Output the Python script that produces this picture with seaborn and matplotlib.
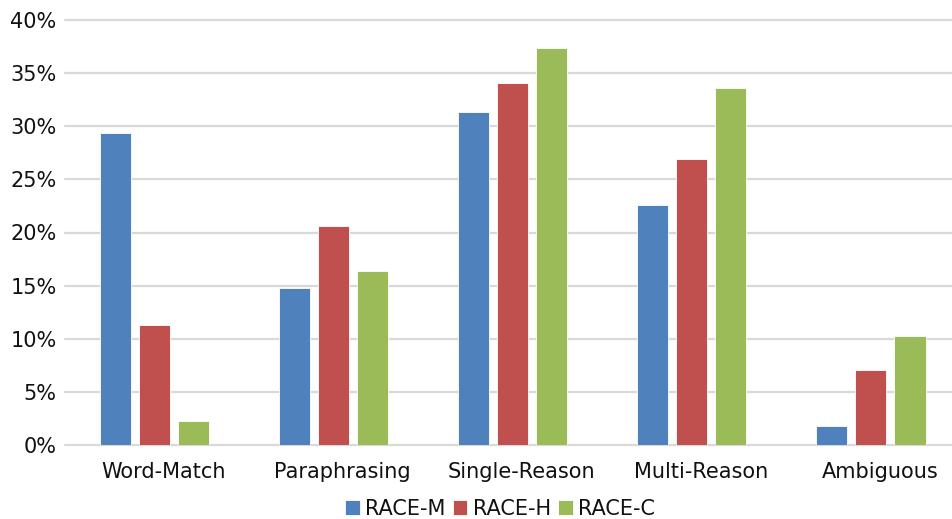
import matplotlib
matplotlib.use("Agg")
import matplotlib.pyplot as plt
import matplotlib.transforms as mtransforms
import seaborn as sns
import pandas as pd
from matplotlib.ticker import FuncFormatter

categories = ["Word-Match", "Paraphrasing", "Single-Reason", "Multi-Reason", "Ambiguous"]
series_names = ["RACE-M", "RACE-H", "RACE-C"]
race_m = [29.4, 14.8, 31.3, 22.6, 1.8]
race_h = [11.3, 20.6, 34.1, 26.9, 7.1]
race_c = [2.3, 16.4, 37.4, 33.6, 10.3]
colors = ["#4F81BD", "#C0504D", "#9BBB59"]

rows = []
for name, vals in zip(series_names, [race_m, race_h, race_c]):
    for cat, v in zip(categories, vals):
        rows.append({"category": cat, "series": name, "value": v})
df = pd.DataFrame(rows)

sns.set_theme(style="white")
plt.rcParams["font.family"] = ["DejaVu Sans"]

fig = plt.figure(figsize=(9.53, 5.19), dpi=100)
ax = fig.add_axes([65 / 953, 1 - 445 / 519, 1 - 65 / 953, (445 - 20) / 519])

sns.barplot(data=df, x="category", y="value", hue="series", order=categories,
            hue_order=series_names, palette=colors, saturation=1, width=0.654, gap=0.205,
            edgecolor="#FFFFFF", linewidth=0.6, ax=ax, legend=True, zorder=3)

ax.set_ylim(0, 40)
ax.set_xlim(-0.5, 4.458)
ax.set_yticks(range(0, 41, 5))
ax.yaxis.set_major_formatter(FuncFormatter(lambda v, p: f"{int(v)}%"))
ax.grid(axis="y", color="#D9D9D9", linewidth=1.6, zorder=0)
ax.set_axisbelow(True)
for gl in ax.get_ygridlines():
    gl.set_clip_on(False)
for s in ax.spines.values():
    s.set_visible(False)
ax.set_xlabel("")
ax.set_ylabel("")
ax.tick_params(axis="both", labelsize=15, length=0)
ax.tick_params(axis="y", pad=6)
ax.tick_params(axis="x", pad=12)
shift = mtransforms.ScaledTranslation(9 / 100, 0, fig.dpi_scale_trans)
for lab in ax.get_xticklabels():
    lab.set_transform(lab.get_transform() + shift)
for lab in ax.get_xticklabels() + ax.get_yticklabels():
    lab.set_color("#111111")

handles, labels = ax.get_legend_handles_labels()
ax.get_legend().remove()
leg = fig.legend(handles, labels, loc="center", bbox_to_anchor=(500 / 953, 1 - 509 / 519),
                 ncol=3, frameon=False, fontsize=15, handlelength=0.7, handleheight=0.7,
                 handletextpad=0.25, columnspacing=0.35, borderpad=0)
for t in leg.get_texts():
    t.set_color("#111111")

fig.savefig("out.png", dpi=100)
